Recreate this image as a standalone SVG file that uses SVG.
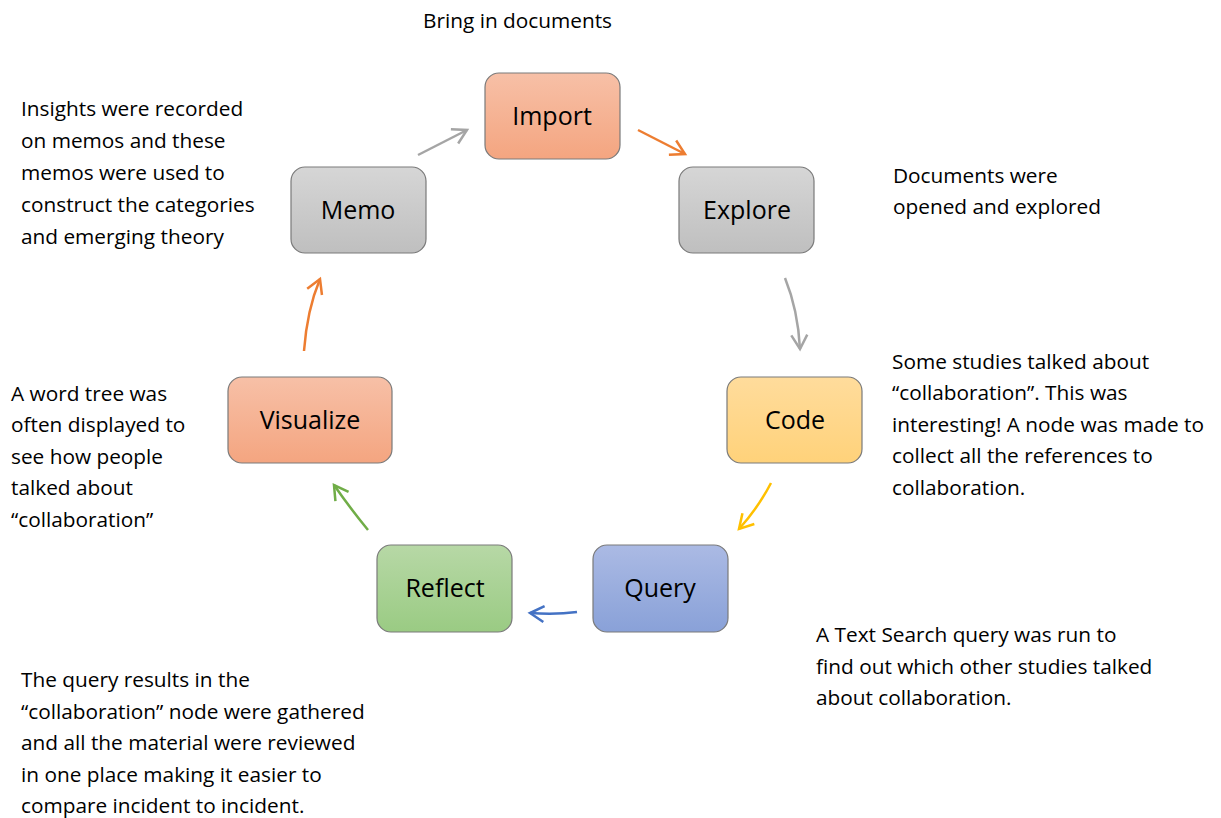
<svg xmlns="http://www.w3.org/2000/svg" width="1221" height="818" viewBox="0 0 1221 818">
<defs>
<linearGradient id="gOrange" x1="0" y1="0" x2="0" y2="1"><stop offset="0" stop-color="#f7c0a7"/><stop offset="1" stop-color="#f4a580"/></linearGradient>
<linearGradient id="gGrey" x1="0" y1="0" x2="0" y2="1"><stop offset="0" stop-color="#d6d6d6"/><stop offset="1" stop-color="#bfbfbf"/></linearGradient>
<linearGradient id="gYellow" x1="0" y1="0" x2="0" y2="1"><stop offset="0" stop-color="#ffdc9c"/><stop offset="1" stop-color="#ffd27a"/></linearGradient>
<linearGradient id="gBlue" x1="0" y1="0" x2="0" y2="1"><stop offset="0" stop-color="#abbae4"/><stop offset="1" stop-color="#89a1d8"/></linearGradient>
<linearGradient id="gGreen" x1="0" y1="0" x2="0" y2="1"><stop offset="0" stop-color="#b7d8a6"/><stop offset="1" stop-color="#9acb83"/></linearGradient>
<marker id="mOrange" viewBox="0 0 20 20" refX="16" refY="10" markerWidth="20" markerHeight="20" markerUnits="userSpaceOnUse" orient="auto"><path d="M2 2 L16 10 L2 18" fill="none" stroke="#ed7d31" stroke-width="2.5"/></marker>
<marker id="mGrey" viewBox="0 0 20 20" refX="16" refY="10" markerWidth="20" markerHeight="20" markerUnits="userSpaceOnUse" orient="auto"><path d="M2 2 L16 10 L2 18" fill="none" stroke="#a5a5a5" stroke-width="2.5"/></marker>
<marker id="mYellow" viewBox="0 0 20 20" refX="16" refY="10" markerWidth="20" markerHeight="20" markerUnits="userSpaceOnUse" orient="auto"><path d="M2 2 L16 10 L2 18" fill="none" stroke="#ffc000" stroke-width="2.5"/></marker>
<marker id="mBlue" viewBox="0 0 20 20" refX="16" refY="10" markerWidth="20" markerHeight="20" markerUnits="userSpaceOnUse" orient="auto"><path d="M2 2 L16 10 L2 18" fill="none" stroke="#4472c4" stroke-width="2.5"/></marker>
<marker id="mGreen" viewBox="0 0 20 20" refX="16" refY="10" markerWidth="20" markerHeight="20" markerUnits="userSpaceOnUse" orient="auto"><path d="M2 2 L16 10 L2 18" fill="none" stroke="#70ad47" stroke-width="2.5"/></marker>
</defs>
<style>
.box{stroke:#7a7a7a;stroke-width:1.2}
.lbl{font-family:"Open Sans","Liberation Sans",sans-serif;font-size:25px;fill:#000;text-anchor:middle}
.note{font-family:"Open Sans","Liberation Sans",sans-serif;font-size:20.8px;fill:#000}
.c{fill:none;stroke-width:2.5}
</style>
<rect width="1221" height="818" fill="#fff"/>
<g id="connectors">
<path class="c" d="M638 130 L685 154" stroke="#ed7d31" marker-end="url(#mOrange)"/>
<path class="c" d="M785 278 Q798 310 800 349" stroke="#a5a5a5" marker-end="url(#mGrey)"/>
<path class="c" d="M771 483 Q758 508 739 529" stroke="#ffc000" marker-end="url(#mYellow)"/>
<path class="c" d="M577 612 Q555 615 530 613" stroke="#4472c4" marker-end="url(#mBlue)"/>
<path class="c" d="M368 530 Q350 508 334 485" stroke="#70ad47" marker-end="url(#mGreen)"/>
<path class="c" d="M304 351 Q307 310 320 279" stroke="#ed7d31" marker-end="url(#mOrange)"/>
<path class="c" d="M418 155 L467 130" stroke="#a5a5a5" marker-end="url(#mGrey)"/>
</g>
<g id="import"><rect class="box" x="485" y="73" width="135" height="86" rx="14" fill="url(#gOrange)"/><text class="lbl" x="552" y="125">Import</text></g>
<g id="explore"><rect class="box" x="679" y="167" width="135" height="86" rx="14" fill="url(#gGrey)"/><text class="lbl" x="747" y="219">Explore</text></g>
<g id="code"><rect class="box" x="727" y="377" width="135" height="86" rx="14" fill="url(#gYellow)"/><text class="lbl" x="795" y="429">Code</text></g>
<g id="query"><rect class="box" x="593" y="545" width="135" height="87" rx="14" fill="url(#gBlue)"/><text class="lbl" x="660" y="597">Query</text></g>
<g id="reflect"><rect class="box" x="377" y="545" width="135" height="87" rx="14" fill="url(#gGreen)"/><text class="lbl" x="445" y="597">Reflect</text></g>
<g id="visualize"><rect class="box" x="228" y="377" width="164" height="86" rx="14" fill="url(#gOrange)"/><text class="lbl" x="310" y="429">Visualize</text></g>
<g id="memo"><rect class="box" x="291" y="167" width="135" height="86" rx="14" fill="url(#gGrey)"/><text class="lbl" x="358" y="219">Memo</text></g>
<g id="notes">
<text class="note" x="423" y="28">Bring in documents</text>
<text class="note" x="21" y="116">Insights were recorded</text>
<text class="note" x="21" y="148">on memos and these</text>
<text class="note" x="21" y="180">memos were used to</text>
<text class="note" x="21" y="212">construct the categories</text>
<text class="note" x="21" y="244">and emerging theory</text>
<text class="note" x="893" y="183">Documents were</text>
<text class="note" x="893" y="214">opened and explored</text>
<text class="note" x="892" y="369">Some studies talked about</text>
<text class="note" x="892" y="400">“collaboration”. This was</text>
<text class="note" x="892" y="432">interesting! A node was made to</text>
<text class="note" x="892" y="463">collect all the references to</text>
<text class="note" x="892" y="495">collaboration.</text>
<text class="note" x="11" y="401">A word tree was</text>
<text class="note" x="11" y="432">often displayed to</text>
<text class="note" x="11" y="464">see how people</text>
<text class="note" x="11" y="495">talked about</text>
<text class="note" x="11" y="527">“collaboration”</text>
<text class="note" x="816" y="642">A Text Search query was run to</text>
<text class="note" x="816" y="674">find out which other studies talked</text>
<text class="note" x="816" y="705">about collaboration.</text>
<text class="note" x="21" y="687">The query results in the</text>
<text class="note" x="21" y="719">“collaboration” node were gathered</text>
<text class="note" x="21" y="750">and all the material were reviewed</text>
<text class="note" x="21" y="782">in one place making it easier to</text>
<text class="note" x="21" y="813">compare incident to incident.</text>
</g>
</svg>
